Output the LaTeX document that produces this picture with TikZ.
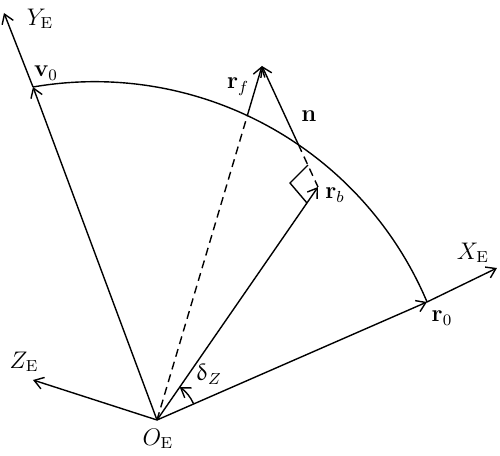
\documentclass[tikz,border=0pt]{standalone}
\usepackage{upgreek}
\usetikzlibrary{arrows.meta,calc}
\begin{document}
\begin{tikzpicture}[x=0.5pt,y=0.5pt,
  line width=0.7pt,
  vec/.style={-{Straight Barb[length=4.5pt,width=6pt,line width=0.7pt]}},
  dsh/.style={dash pattern=on 4pt off 2.6pt},
  lbl/.style={font=\fontsize{12}{14}\selectfont, inner sep=0pt}]
\useasboundingbox (0,0) rectangle (500,456);
% points
\coordinate (O) at (157,36);
\coordinate (Xt) at (497,188);
\coordinate (r0) at (427,154);
\coordinate (Yt) at (4,443);
\coordinate (v0) at (33,369);
\coordinate (Zt) at (33,76);
\coordinate (rf) at (262,390);
\coordinate (fc) at (247.5,341);
\coordinate (rb) at (318,269);
\coordinate (nc) at (298.4,311.4);
\coordinate (ra1) at (307,253);
\coordinate (ra2) at (290,273);
\coordinate (ra3) at (308,291);
% axes
\draw[vec] (O) -- (r0);
\draw[vec] (r0) -- (Xt);
\draw[vec] (O) -- (v0);
\draw[vec] (v0) -- (Yt);
\draw[vec] (O) -- (Zt);
% arc
\draw (v0) arc[start angle=99.83, end angle=22.93, radius=180.5pt];
% r_f and n
\draw[dsh] (O) -- (fc);
\draw[vec] (fc) -- (rf);
\draw[vec] (nc) -- (rf);
\draw[dsh] (nc) -- (rb);
\draw[vec] (O) -- (rb);
\draw (ra1) -- (ra2) -- (ra3);
% delta_Z
\draw[vec] ($(O)+(24.1:20pt)$) arc[start angle=24.1, end angle=55.4, radius=20pt];
% labels
\node[lbl] (lY) at (40,437) {$Y_{\mathrm{E}}$};
\node[lbl] (lv) at (46,383) {$\mathbf{v}_0$};
\node[lbl] (lf) at (238,369) {$\mathbf{r}_f$};
\node[lbl] (ln) at (309,340) {$\mathbf{n}$};
\node[lbl] (lb) at (335,261) {$\mathbf{r}_b$};
\node[lbl] (lX) at (473,203) {$X_{\mathrm{E}}$};
\node[lbl] (l0) at (442,138) {$\mathbf{r}_0$};
\node[lbl] (lZ) at (24,94) {$Z_{\mathrm{E}}$};
\node[lbl] (ld) at (209,82) {$\updelta_Z$};
\node[lbl] (lO) at (158,17) {$O_{\mathrm{E}}$};
\end{tikzpicture}
\end{document}
